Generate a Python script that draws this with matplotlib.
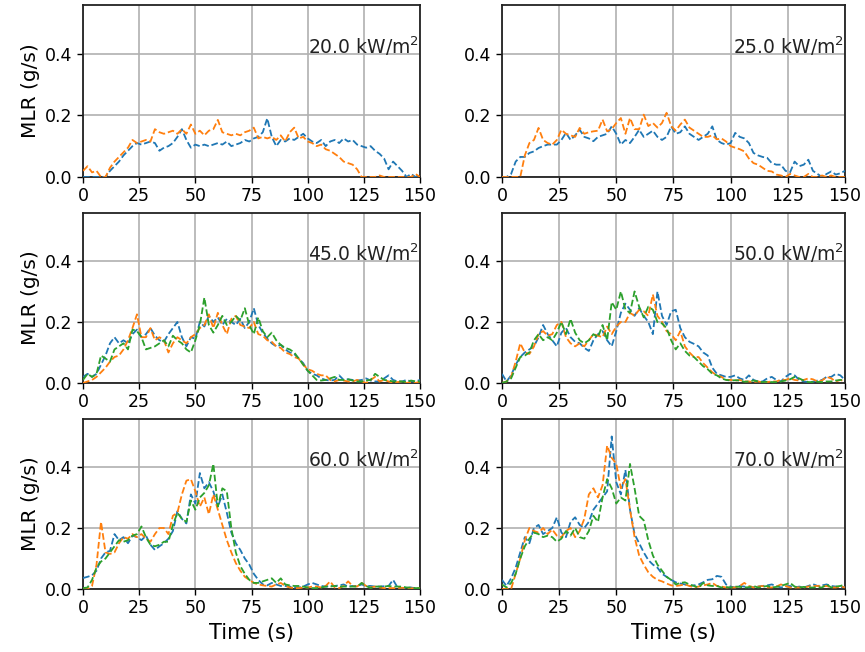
import matplotlib
matplotlib.use("Agg")
import matplotlib.pyplot as plt
import matplotlib.transforms as mtransforms
import numpy as np

# time base (s), sampled every 2 s
time_s = np.arange(0, 151, 2)

heat_flux = [20.0, 25.0, 45.0, 50.0, 60.0, 70.0]

# MLR (g/s), one list per test run
mlr_20_a = [0, 0, 0, 0, 0, 0, 0.02, 0.035, 0.05, 0.07, 0.085, 0.10, 0.11, 0.105, 0.11, 0.115,
            0.11, 0.085, 0.095, 0.10, 0.11, 0.13, 0.155, 0.12, 0.095, 0.105, 0.10, 0.105, 0.10, 0.105,
            0.11, 0.105, 0.115, 0.10, 0.105, 0.11, 0.12, 0.115, 0.125, 0.13, 0.145, 0.19, 0.13, 0.10,
            0.12, 0.115, 0.125, 0.12, 0.13, 0.14, 0.125, 0.115, 0.11, 0.12, 0.10, 0.115, 0.12, 0.11,
            0.125, 0.115, 0.12, 0.105, 0.10, 0.095, 0.10, 0.085, 0.075, 0.06, 0.025, 0.05, 0.035, 0.02,
            0.0, 0.01, 0.0, 0.01]
mlr_20_b = [0.02, 0.035, 0.015, 0.02, 0.0, 0.0, 0.03, 0.05, 0.065, 0.08, 0.095, 0.12, 0.11, 0.115,
            0.12, 0.115, 0.155, 0.145, 0.14, 0.145, 0.15, 0.14, 0.155, 0.14, 0.17, 0.14, 0.15, 0.135,
            0.15, 0.155, 0.185, 0.145, 0.14, 0.135, 0.14, 0.135, 0.145, 0.15, 0.16, 0.125, 0.13, 0.125,
            0.13, 0.12, 0.135, 0.115, 0.145, 0.16, 0.125, 0.13, 0.115, 0.11, 0.10, 0.105, 0.09, 0.085,
            0.075, 0.065, 0.05, 0.045, 0.04, 0.025, 0.0, 0, 0, 0, 0.005, 0, 0, 0, 0, 0, 0, 0, 0.01, 0]

mlr_25_a = [0, 0, 0.01, 0.05, 0.065, 0.065, 0.078, 0.083, 0.094, 0.10, 0.105, 0.105, 0.105, 0.12,
            0.143, 0.12, 0.135, 0.153, 0.13, 0.125, 0.116, 0.13, 0.135, 0.14, 0.164, 0.14, 0.105, 0.12,
            0.11, 0.13, 0.153, 0.13, 0.14, 0.15, 0.13, 0.12, 0.13, 0.164, 0.14, 0.145, 0.164, 0.14,
            0.13, 0.12, 0.13, 0.14, 0.164, 0.12, 0.11, 0.105, 0.11, 0.143, 0.13, 0.125, 0.11, 0.078,
            0.07, 0.065, 0.062, 0.045, 0.04, 0.04, 0.02, 0.015, 0.05, 0.035, 0.04, 0.056, 0.02, 0.01,
            0.0, 0.01, 0.018, 0.008, 0.012, 0.02]
mlr_25_b = [0, 0, 0, 0, 0.0, 0.07, 0.11, 0.12, 0.159, 0.12, 0.11, 0.105, 0.12, 0.153, 0.14, 0.135,
            0.13, 0.159, 0.14, 0.145, 0.148, 0.15, 0.186, 0.148, 0.155, 0.175, 0.191, 0.14, 0.191,
            0.155, 0.155, 0.202, 0.165, 0.175, 0.16, 0.175, 0.208, 0.165, 0.15, 0.17, 0.186, 0.16,
            0.15, 0.14, 0.13, 0.13, 0.135, 0.122, 0.125, 0.115, 0.10, 0.095, 0.09, 0.083, 0.06, 0.045,
            0.04, 0.03, 0.02, 0.018, 0.008, 0.005, 0.0, 0.01, 0.005, 0.0, 0.0, 0.01, 0.0, 0.0, 0.005,
            0.0, 0.005, 0.0, 0.0, 0.0]

mlr_45_a = [0.02, 0.03, 0.02, 0.03, 0.06, 0.09, 0.13, 0.15, 0.13, 0.14, 0.13, 0.16, 0.175, 0.15,
            0.16, 0.18, 0.155, 0.14, 0.135, 0.16, 0.18, 0.2, 0.15, 0.12, 0.15, 0.145, 0.2, 0.185, 0.22,
            0.2, 0.215, 0.19, 0.21, 0.2, 0.19, 0.21, 0.18, 0.2, 0.245, 0.19, 0.165, 0.145, 0.13, 0.12,
            0.125, 0.11, 0.1, 0.095, 0.08, 0.065, 0.04, 0.03, 0.025, 0.015, 0.01, 0.008, 0.01, 0.025,
            0.01, 0.012, 0.01, 0.008, 0.01, 0.015, 0.008, 0.005, 0.005, 0.015, 0.025, 0.01, 0.005,
            0.005, 0.01, 0.005, 0.005, 0.01]
mlr_45_b = [0, 0.005, 0.01, 0.02, 0.035, 0.05, 0.07, 0.085, 0.09, 0.11, 0.14, 0.18, 0.225, 0.15,
            0.15, 0.18, 0.14, 0.15, 0.14, 0.1, 0.13, 0.15, 0.14, 0.13, 0.15, 0.16, 0.18, 0.19, 0.225,
            0.18, 0.23, 0.19, 0.16, 0.21, 0.22, 0.19, 0.185, 0.18, 0.2, 0.16, 0.155, 0.14, 0.135, 0.12,
            0.115, 0.1, 0.095, 0.085, 0.08, 0.06, 0.045, 0.04, 0.03, 0.025, 0.025, 0.01, 0.005, 0.01,
            0.008, 0.005, 0.005, 0.01, 0.005, 0.0, 0.01, 0.02, 0.005, 0.01, 0.005, 0.0, 0.003, 0.005,
            0.0, 0.003, 0.0, 0.005]
mlr_45_c = [0.01, 0.03, 0.02, 0.03, 0.09, 0.08, 0.07, 0.11, 0.12, 0.13, 0.11, 0.175, 0.17, 0.15,
            0.11, 0.115, 0.12, 0.13, 0.14, 0.12, 0.155, 0.14, 0.13, 0.11, 0.1, 0.14, 0.19, 0.28, 0.19,
            0.165, 0.19, 0.22, 0.19, 0.2, 0.22, 0.205, 0.245, 0.19, 0.16, 0.215, 0.17, 0.15, 0.165,
            0.14, 0.125, 0.115, 0.11, 0.1, 0.08, 0.06, 0.04, 0.025, 0.01, 0.008, 0.01, 0.015, 0.02,
            0.01, 0.01, 0.012, 0.008, 0.005, 0.005, 0.008, 0.01, 0.03, 0.02, 0.01, 0.008, 0.005, 0.005,
            0.005, 0.003, 0.008, 0.005, 0.005]

mlr_50_a = [0.03, 0.005, 0.025, 0.06, 0.085, 0.1, 0.11, 0.12, 0.15, 0.19, 0.16, 0.14, 0.12, 0.165,
            0.18, 0.15, 0.135, 0.13, 0.115, 0.105, 0.14, 0.16, 0.17, 0.14, 0.12, 0.17, 0.23, 0.26,
            0.24, 0.22, 0.245, 0.22, 0.2, 0.16, 0.3, 0.22, 0.19, 0.235, 0.24, 0.18, 0.15, 0.135, 0.128,
            0.12, 0.1, 0.09, 0.05, 0.03, 0.025, 0.02, 0.02, 0.025, 0.015, 0.01, 0.025, 0.01, 0.005,
            0.005, 0.015, 0.02, 0.01, 0.005, 0.02, 0.03, 0.025, 0.01, 0.005, 0.003, 0.004, 0.008, 0.01,
            0.02, 0.02, 0.03, 0.025, 0.01]
mlr_50_b = [0.0, 0.005, 0.02, 0.07, 0.13, 0.1, 0.095, 0.12, 0.16, 0.17, 0.155, 0.16, 0.19, 0.2,
            0.15, 0.13, 0.12, 0.13, 0.12, 0.14, 0.16, 0.155, 0.15, 0.185, 0.16, 0.185, 0.2, 0.2, 0.23,
            0.22, 0.24, 0.235, 0.22, 0.29, 0.22, 0.2, 0.17, 0.16, 0.14, 0.17, 0.12, 0.1, 0.085, 0.085,
            0.065, 0.05, 0.035, 0.025, 0.02, 0.01, 0.01, 0.008, 0.01, 0.005, 0.005, 0.003, 0.005, 0.002,
            0.003, 0.005, 0.005, 0.01, 0.01, 0.015, 0.01, 0.008, 0.01, 0.015, 0.012, 0.005, 0.008, 0.02,
            0.015, 0.005, 0.01, 0.005]
mlr_50_c = [0.0, 0.005, 0.015, 0.05, 0.085, 0.09, 0.1, 0.14, 0.16, 0.14, 0.15, 0.14, 0.165, 0.2,
            0.16, 0.21, 0.165, 0.14, 0.13, 0.14, 0.16, 0.15, 0.19, 0.14, 0.265, 0.24, 0.3, 0.24, 0.23,
            0.3, 0.25, 0.215, 0.25, 0.24, 0.2, 0.195, 0.18, 0.14, 0.11, 0.13, 0.105, 0.09, 0.085, 0.07,
            0.055, 0.045, 0.03, 0.025, 0.015, 0.01, 0.008, 0.009, 0.008, 0.004, 0.005, 0.008, 0.005,
            0.003, 0.004, 0.003, 0.003, 0.005, 0.008, 0.012, 0.02, 0.015, 0.008, 0.003, 0.003, 0.004,
            0.003, 0.005, 0.005, 0.008, 0.01, 0.01]

mlr_60_a = [0.036, 0.04, 0.045, 0.06, 0.1, 0.12, 0.125, 0.18, 0.16, 0.17, 0.15, 0.175, 0.17, 0.16,
            0.175, 0.145, 0.128, 0.14, 0.15, 0.165, 0.19, 0.255, 0.23, 0.215, 0.31, 0.28, 0.38, 0.33,
            0.35, 0.32, 0.27, 0.31, 0.25, 0.185, 0.15, 0.128, 0.1, 0.08, 0.05, 0.03, 0.015, 0.012, 0.02,
            0.015, 0.01, 0.01, 0.008, 0.005, 0.005, 0.008, 0.015, 0.02, 0.015, 0.01, 0.008, 0.01, 0.01,
            0.012, 0.015, 0.008, 0.01, 0.01, 0.015, 0.01, 0.01, 0.008, 0.008, 0.009, 0.01, 0.03, 0.005,
            0.003, 0.003, 0.005, 0.002, 0.002]
mlr_60_b = [0.0, 0.0, 0.01, 0.08, 0.22, 0.12, 0.115, 0.12, 0.15, 0.17, 0.165, 0.18, 0.17, 0.18,
            0.165, 0.155, 0.18, 0.2, 0.2, 0.18, 0.24, 0.25, 0.31, 0.355, 0.36, 0.32, 0.27, 0.3, 0.245,
            0.31, 0.26, 0.21, 0.16, 0.12, 0.085, 0.06, 0.04, 0.03, 0.02, 0.015, 0.012, 0.01, 0.008,
            0.015, 0.02, 0.01, 0.005, 0.003, 0.003, 0.005, 0.005, 0.008, 0.008, 0.005, 0.01, 0.025,
            0.005, 0.003, 0.01, 0.025, 0.01, 0.008, 0.02, 0.01, 0.005, 0.008, 0.005, 0.003, 0.003,
            0.003, 0.003, 0.004, 0.003, 0.002, 0.003, 0.003]
mlr_60_c = [0.003, 0.005, 0.03, 0.07, 0.09, 0.1, 0.12, 0.14, 0.16, 0.155, 0.16, 0.175, 0.18, 0.205,
            0.17, 0.145, 0.14, 0.145, 0.155, 0.155, 0.21, 0.25, 0.23, 0.22, 0.29, 0.26, 0.3, 0.315,
            0.34, 0.41, 0.27, 0.33, 0.32, 0.2, 0.12, 0.075, 0.05, 0.03, 0.02, 0.02, 0.025, 0.03, 0.035,
            0.02, 0.035, 0.015, 0.012, 0.01, 0.01, 0.008, 0.005, 0.003, 0.003, 0.005, 0.008, 0.008,
            0.01, 0.008, 0.008, 0.008, 0.008, 0.008, 0.02, 0.01, 0.003, 0.008, 0.008, 0.008, 0.01,
            0.008, 0.008, 0.008, 0.005, 0.005, 0.003, 0.003]

mlr_70_a = [0.03, 0.01, 0.035, 0.07, 0.12, 0.17, 0.15, 0.2, 0.21, 0.18, 0.19, 0.2, 0.235, 0.185,
            0.17, 0.22, 0.235, 0.21, 0.2, 0.22, 0.26, 0.28, 0.3, 0.32, 0.5, 0.35, 0.31, 0.39, 0.26,
            0.18, 0.15, 0.12, 0.095, 0.08, 0.07, 0.05, 0.04, 0.03, 0.022, 0.018, 0.015, 0.01, 0.012,
            0.015, 0.022, 0.03, 0.032, 0.043, 0.04, 0.015, 0.008, 0.005, 0.01, 0.008, 0.005, 0.006,
            0.008, 0.01, 0.012, 0.015, 0.01, 0.005, 0.008, 0.01, 0.005, 0.008, 0.005, 0.01, 0.016, 0.01,
            0.012, 0.015, 0.01, 0.008, 0.005, 0.007]
mlr_70_b = [0.0, 0.0, 0.0, 0.05, 0.1, 0.16, 0.2, 0.19, 0.185, 0.2, 0.18, 0.195, 0.175, 0.17, 0.19,
            0.2, 0.17, 0.19, 0.23, 0.31, 0.33, 0.3, 0.34, 0.47, 0.43, 0.41, 0.33, 0.36, 0.26, 0.17,
            0.11, 0.08, 0.055, 0.04, 0.03, 0.025, 0.018, 0.012, 0.01, 0.012, 0.015, 0.01, 0.005, 0.008,
            0.012, 0.015, 0.02, 0.01, 0.008, 0.005, 0.005, 0.005, 0.01, 0.02, 0.01, 0.005, 0.008, 0.01,
            0.005, 0.005, 0.008, 0.015, 0.01, 0.005, 0.005, 0.005, 0.005, 0.008, 0.01, 0.01, 0.008,
            0.01, 0.005, 0.005, 0.008, 0.005]
mlr_70_c = [0.015, 0.005, 0.02, 0.05, 0.1, 0.14, 0.165, 0.185, 0.18, 0.17, 0.175, 0.17, 0.155,
            0.165, 0.19, 0.175, 0.2, 0.17, 0.165, 0.19, 0.24, 0.22, 0.3, 0.36, 0.33, 0.28, 0.3, 0.29,
            0.41, 0.33, 0.24, 0.225, 0.16, 0.11, 0.08, 0.06, 0.04, 0.03, 0.015, 0.02, 0.022, 0.015,
            0.01, 0.005, 0.02, 0.012, 0.01, 0.01, 0.005, 0.006, 0.005, 0.008, 0.007, 0.005, 0.006, 0.01,
            0.005, 0.007, 0.01, 0.005, 0.007, 0.01, 0.015, 0.02, 0.008, 0.005, 0.007, 0.005, 0.005,
            0.006, 0.005, 0.015, 0.005, 0.008, 0.01, 0.015]

runs = [
  [mlr_20_a, mlr_20_b],
  [mlr_25_a, mlr_25_b],
  [mlr_45_a, mlr_45_b, mlr_45_c],
  [mlr_50_a, mlr_50_b, mlr_50_c],
  [mlr_60_a, mlr_60_b, mlr_60_c],
  [mlr_70_a, mlr_70_b, mlr_70_c],
]

colors = ["#1f77b4", "#ff7f0e", "#2ca02c"]

# axes boxes in figure fractions (left, bottom, width, height)
col_x = [(0.0960, 0.3896), (0.5803, 0.3965)]
row_y = [(0.7285, 0.2638), (0.4126, 0.2607), (0.0966, 0.2607)]

fig = plt.figure(figsize=(8.65, 6.52), dpi=100)

for k, (flux, series) in enumerate(zip(heat_flux, runs)):
  r, c = divmod(k, 2)
  ax = fig.add_axes([col_x[c][0], row_y[r][0], col_x[c][1], row_y[r][1]])
  for j, ys in enumerate(series):
    ax.plot(time_s, ys, ls="--", lw=1.3, color=colors[j], zorder=3)
  ax.set_xlim(0, 150)
  ax.set_ylim(0, 0.557)
  ax.set_xticks([0, 25, 50, 75, 100, 125, 150])
  ax.set_yticks([0.0, 0.2, 0.4])
  ax.tick_params(labelsize=12.5, length=4, width=1)
  ax.grid(True, color="#b0b0b0", lw=1.2)
  for sp in ax.spines.values():
    sp.set_color("#222222")
    sp.set_linewidth(1.3)
  trans = mtransforms.blended_transform_factory(ax.transAxes, ax.transData)
  ax.text(0.997, 0.4, f"{flux:.1f} kW/m$^2$", transform=trans, ha="right", va="baseline",
          fontsize=13.5, color="#222222")
  if c == 0:
    ax.set_ylabel("MLR (g/s)", fontsize=14.5)
  if r == 2:
    ax.set_xlabel("Time (s)", fontsize=15)

fig.savefig("out.png", dpi=100)
